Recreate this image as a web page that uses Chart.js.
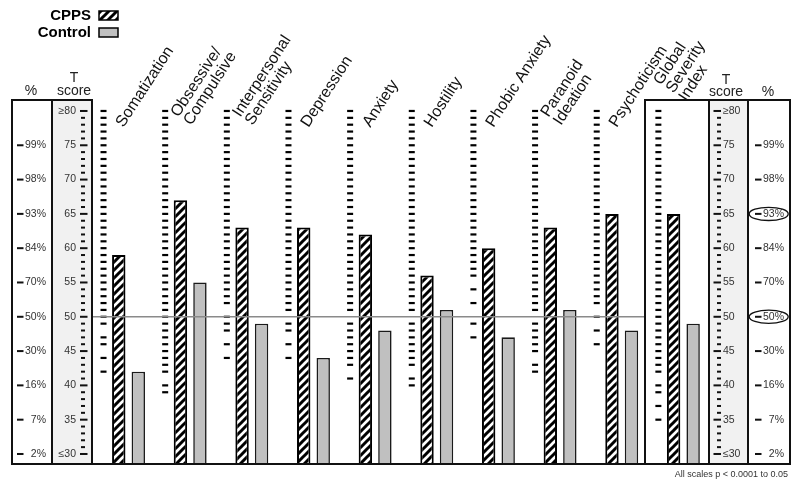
<!DOCTYPE html>
<html><head><meta charset="utf-8">
<script src="https://cdn.jsdelivr.net/npm/chart.js@4/dist/chart.umd.min.js"></script>
<style>html,body{margin:0;padding:0;background:#fff}#wrap{width:800px;height:482px}</style>
</head><body><div id="wrap"><canvas id="c" width="800" height="482"></canvas></div>
<script>
// ---------- data ----------
const categories = [['Somatization'], ['Obsessive/', 'Compulsive'], ['Interpersonal', 'Sensitivity'], ['Depression'], ['Anxiety'], ['Hostility'], ['Phobic Anxiety'], ['Paranoid', 'Ideation'], ['Psychoticism'], ['Global', 'Severity', 'Index']];
const cppsValues    = [59, 67, 63, 63, 62, 56, 60, 63, 65, 65];
const controlValues = [42, 55, 49, 44, 48, 51, 47, 51, 48, 49];
const seriesNames = ['CPPS', 'Control'];
const tScoreTicks  = [30, 35, 40, 45, 50, 55, 60, 65, 70, 75, 80];
const tScoreLabels = ['≤30', '35', '40', '45', '50', '55', '60', '65', '70', '75', '≥80'];
const percentileLabels = ['2%', '7%', '16%', '30%', '50%', '70%', '84%', '93%', '98%', '99%'];
const highlightedPercentiles = ['93%', '50%'];
// raw-score tick columns per scale: continuous 1-point run from the top down to the floor, then isolated ticks
const scaleTopT = 80;
const scaleDenseFloor = [49, 42, 52, 51, 51, 51, 56, 51, 52, 42];
const scaleSparseTicks = [[47, 46, 44, 42], [40, 39], [50, 49, 48, 46, 44], [49, 48, 46, 44], [49, 48, 47, 46, 45, 44, 43, 41], [49, 48, 47, 46, 45, 44, 43, 41, 40], [54, 52, 49, 47], [49, 48, 47, 46, 45, 43, 42], [50, 48, 46], [40, 39, 37, 35]];
const referenceT = 50;
const footnote = 'All scales p < 0.0001 to 0.05';
const headerPct = '%';
const headerT = ['T', 'score'];

// ---------- style / layout ----------
const Y_MIN = 28.54, Y_MAX = 81.6;
const FONT = '"Liberation Sans", Arial, Helvetica, sans-serif';
const P = {left: 12, pctDiv: 52, tDiv: 92, gsiLeft: 645, rTLeft: 709, rTRight: 748, right: 790};

function makeHatch() {
  const s = 8, c = document.createElement('canvas'); c.width = s; c.height = s;
  const g = c.getContext('2d'); g.fillStyle = '#fff'; g.fillRect(0, 0, s, s);
  g.strokeStyle = '#000'; g.lineWidth = 3;
  g.beginPath();
  g.moveTo(-2, s + 2); g.lineTo(s + 2, -2);
  g.moveTo(-2, 2); g.lineTo(2, -2);
  g.moveTo(s - 2, s + 2); g.lineTo(s + 2, s - 2);
  g.stroke();
  return document.getElementById('c').getContext('2d').createPattern(c, 'repeat');
}
const hatch = makeHatch();

const decor = {
  id: 'decor',
  beforeDatasetsDraw(chart) {
    const {ctx, scales: {y}} = chart;
    const top = y.top, bot = y.bottom;
    ctx.save();
    ctx.fillStyle = '#f1f1f1';
    ctx.fillRect(P.pctDiv, top, P.tDiv - P.pctDiv, bot - top);
    ctx.fillRect(P.rTLeft, top, P.rTRight - P.rTLeft, bot - top);
    // raw-score tick columns
    const x = chart.scales.x;
    ctx.fillStyle = '#000';
    categories.forEach((c, i) => {
      const cx = x.getPixelForValue(i) - 25;
      const vals = [];
      for (let v = scaleTopT; v >= scaleDenseFloor[i]; v--) vals.push(v);
      vals.push(...scaleSparseTicks[i]);
      vals.forEach(v => { const py = y.getPixelForValue(v); ctx.fillRect(cx - 3, py - 1.1, 6, 2.2); });
    });
    ctx.restore();
  },
  afterDatasetsDraw(chart) {
    const {ctx, scales: {x, y}} = chart;
    const top = y.top, bot = y.bottom;
    ctx.save();
    // reference line
    ctx.strokeStyle = '#8a8a8a'; ctx.lineWidth = 1.5;
    ctx.beginPath(); const ry = y.getPixelForValue(referenceT);
    ctx.moveTo(P.tDiv, ry); ctx.lineTo(P.gsiLeft, ry); ctx.stroke();

    // T-score axis ticks
    ctx.fillStyle = '#111';
    for (let v = tScoreTicks[0]; v <= tScoreTicks[tScoreTicks.length - 1]; v++) {
      const py = y.getPixelForValue(v);
      const major = tScoreTicks.includes(v);
      if (major) { ctx.fillRect(80, py - 1, 7.5, 2); ctx.fillRect(713.5, py - 1, 7.5, 2); }
      else { ctx.fillRect(81, py - 1, 4, 2); ctx.fillRect(717, py - 1, 4, 2); }
    }
    ctx.font = '10.5px ' + FONT; ctx.fillStyle = '#333'; ctx.textBaseline = 'middle';
    tScoreTicks.forEach((v, i) => {
      const py = y.getPixelForValue(v);
      ctx.textAlign = 'right'; ctx.fillText(tScoreLabels[i], 76, py);
      ctx.textAlign = 'left'; ctx.fillText(tScoreLabels[i], 723, py);
    });
    // percentile ticks and labels
    percentileLabels.forEach((lab, i) => {
      const py = y.getPixelForValue(tScoreTicks[i]);
      ctx.fillStyle = '#111';
      ctx.fillRect(17, py - 1, 6.5, 2); ctx.fillRect(755, py - 1, 6.5, 2);
      ctx.fillStyle = '#333'; ctx.textAlign = 'right';
      ctx.fillText(lab, 46, py); ctx.fillText(lab, 784, py);
      if (highlightedPercentiles.includes(lab)) {
        ctx.strokeStyle = '#111'; ctx.lineWidth = 1.3;
        ctx.beginPath(); ctx.ellipse(768.7, py, 19.5, 6.6, 0, 0, Math.PI * 2); ctx.stroke();
      }
    });

    // frame
    ctx.strokeStyle = '#111'; ctx.lineWidth = 2; ctx.lineCap = 'square';
    ctx.beginPath();
    [P.left, P.pctDiv, P.tDiv, P.gsiLeft, P.rTLeft, P.rTRight, P.right].forEach(px => { ctx.moveTo(px, top); ctx.lineTo(px, bot); });
    ctx.moveTo(P.left, top); ctx.lineTo(P.tDiv, top);
    ctx.moveTo(P.gsiLeft, top); ctx.lineTo(P.right, top);
    ctx.moveTo(P.left, bot); ctx.lineTo(P.right, bot);
    ctx.stroke();

    // headers
    ctx.fillStyle = '#222'; ctx.font = '14px ' + FONT; ctx.textAlign = 'center'; ctx.textBaseline = 'alphabetic';
    ctx.fillText(headerPct, 31, 95); ctx.fillText(headerT[0], 74, 82); ctx.fillText(headerT[1], 74, 95);
    ctx.fillText(headerT[0], 726, 84); ctx.fillText(headerT[1], 726, 96); ctx.fillText(headerPct, 768, 96);

    // category labels
    const th = 57 * Math.PI / 180, lh = 15;
    ctx.fillStyle = '#111'; ctx.font = '16px ' + FONT; ctx.textAlign = 'left'; ctx.textBaseline = 'alphabetic';
    categories.forEach((lines, i) => {
      const cx = x.getPixelForValue(i);
      let ax, ay;
      if (lines.length === 1) { ax = cx - 5; ay = 128; }
      else if (lines.length === 2) { ax = cx + 1; ay = 126; }
      else { ax = cx + 3; ay = 102; }
      const n = lines.length;
      lines.forEach((t, k) => {
        const off = (k - (n - 1)) * lh;
        const px = ax + off * Math.sin(th), py = ay + off * Math.cos(th);
        ctx.save(); ctx.translate(px, py); ctx.rotate(-th); ctx.fillText(t, 0, 0); ctx.restore();
      });
    });

    // legend
    ctx.font = 'bold 15px ' + FONT; ctx.textAlign = 'right'; ctx.fillStyle = '#000';
    const fills = [hatch, '#c0c0c0'];
    seriesNames.forEach((nm, i) => {
      const by = 20 + i * 17;
      ctx.fillText(nm, 91, by);
      ctx.fillStyle = fills[i]; ctx.fillRect(99, by - 9, 19, 9);
      ctx.strokeStyle = '#000'; ctx.lineWidth = 1.5; ctx.strokeRect(99, by - 9, 19, 9);
      ctx.fillStyle = '#000';
    });

    // footnote
    ctx.font = '9px ' + FONT; ctx.fillStyle = '#333'; ctx.textAlign = 'right';
    ctx.fillText(footnote, 788, 477);
    ctx.restore();
  }
};

new Chart(document.getElementById('c'), {
  type: 'bar',
  data: {
    labels: categories,
    datasets: [
      {label: seriesNames[0], data: cppsValues, backgroundColor: hatch, borderColor: '#000', borderWidth: 2, base: Y_MIN, categoryPercentage: 0.633, barPercentage: 0.687},
      {label: seriesNames[1], data: controlValues, backgroundColor: '#c0c0c0', borderColor: '#1a1a1a', borderWidth: 1.6, base: Y_MIN, categoryPercentage: 0.633, barPercentage: 0.687}
    ]
  },
  options: {
    responsive: false, animation: false, devicePixelRatio: 1,
    layout: {padding: {left: 97.7, right: 85.8, top: 100, bottom: 18}},
    plugins: {legend: {display: false}, tooltip: {enabled: false}},
    scales: {
      x: {display: false, offset: true},
      y: {display: false, min: Y_MIN, max: Y_MAX}
    }
  },
  plugins: [decor]
});
</script>
</body></html>
